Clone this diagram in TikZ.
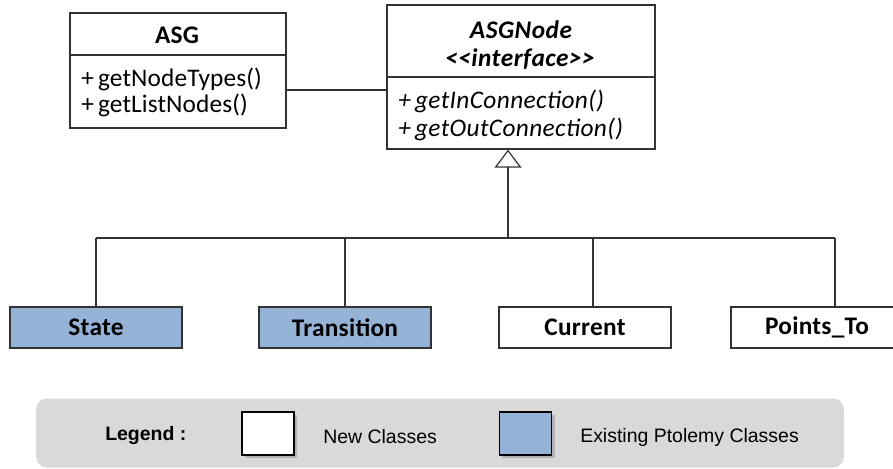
\documentclass[tikz,border=0pt]{standalone}
\usepackage{fontspec}
\setmainfont{Carlito}
\newfontfamily\legendfont{Liberation Sans}
\usetikzlibrary{arrows.meta}
\definecolor{ptblue}{HTML}{95B3D7}
\definecolor{legendgray}{HTML}{D9D9D9}
\definecolor{edge}{HTML}{333333}
\newcommand\boxsize{\fontsize{19}{22}\selectfont}
\tikzset{
  classbox/.style={draw=edge, line width=1pt, fill=white, inner sep=0pt},
  title/.style={inner sep=0pt, font=\boxsize\bfseries\addfontfeature{LetterSpace=1}},
  ititle/.style={inner sep=0pt, font=\boxsize\bfseries\itshape\addfontfeature{LetterSpace=2}},
  leaf/.style={classbox, minimum width=172*0.75pt, minimum height=41*0.75pt,
    font=\boxsize\bfseries\addfontfeature{LetterSpace=1}},
  oldleaf/.style={leaf, fill=ptblue},
  member/.style={anchor=west, inner sep=0pt, font=\boxsize\addfontfeature{LetterSpace=0.5}},
  imember/.style={anchor=west, inner sep=0pt, font=\boxsize\itshape\addfontfeature{LetterSpace=1.5}},
  wire/.style={draw=edge, line width=0.9pt},
  swatch/.style={draw=black, line width=0.8pt, minimum width=52*0.75pt,
    minimum height=43*0.75pt, inner sep=0pt},
  shade/.style={fill=black!30},
  legendtext/.style={font=\legendfont\fontsize{14.6}{17}\selectfont, inner sep=0pt}
}
\begin{document}
\begin{tikzpicture}[x=0.75pt, y=-0.75pt]
\useasboundingbox (0,0) rectangle (893,468);

% ASG class
\node[classbox, minimum width=216*0.75pt, minimum height=115*0.75pt] (asg) at (178,70.5) {};
\draw[wire] (70,55) -- (286,55);
\node[title] (asgT) at (177,35) {ASG};
\node[member] (asgM1) at (81,79) {+\,getNodeTypes()};
\node[member] (asgM2) at (81,105) {+\,getListNodes()};

% ASGNode interface
\node[classbox, minimum width=268*0.75pt, minimum height=144*0.75pt] (asgnode) at (521,77) {};
\draw[wire] (387,77) -- (655,77);
\node[ititle] (anT) at (521,30) {ASGNode};
\node[ititle] (anS) at (520,59) {<{}<interface>{}>};
\node[imember] (anM1) at (398,101) {+\,getInConnection()};
\node[imember] (anM2) at (398,129) {+\,getOutConnection()};

% association
\draw[wire] (asg.east |- 0,90) -- (asgnode.west |- 0,90);

% subclasses
\node[oldleaf] (state) at (96,327.5) {State};
\node[oldleaf] (trans) at (345,327.5) {Transition};
\node[leaf] (current) at (585,327.5) {Current};
\node[leaf] (points) at (817,327.5) {Points\_To};

% generalization tree
\coordinate (hub) at (508,238);
\coordinate (busL) at (96,238);
\coordinate (busR) at (835,238);
\draw[wire, -{Triangle[open, width=27*0.75pt, length=18*0.75pt, line width=0.9pt]}]
  (hub) -- (hub |- asgnode.south);
\draw[wire] (busL) -- (busR);
\draw[wire] (busL) -- (state.north);
\draw[wire] (345,238) -- (trans.north);
\draw[wire] (593,238) -- (593,307);
\draw[wire] (busR) -- (835,307);

% legend
\node[fill=legendgray, rounded corners=11*0.75pt, minimum width=808*0.75pt,
  minimum height=69*0.75pt, inner sep=0pt] (legend) at (440,433) {};
\node[legendtext, font=\legendfont\fontsize{14.6}{17}\selectfont\bfseries, anchor=west] (legT) at (105,436) {Legend :};
\fill[shade] (245,415) rectangle (297,458);
\node[swatch, fill=white] (swNew) at (268,433.5) {};
\node[legendtext, anchor=west] (legNew) at (323,437) {New Classes};
\fill[shade] (502,415) rectangle (555,458);
\node[swatch, fill=ptblue] (swOld) at (525.5,433.5) {};
\node[legendtext, anchor=west] (legOld) at (580,437) {Existing Ptolemy Classes};
\end{tikzpicture}
\end{document}
